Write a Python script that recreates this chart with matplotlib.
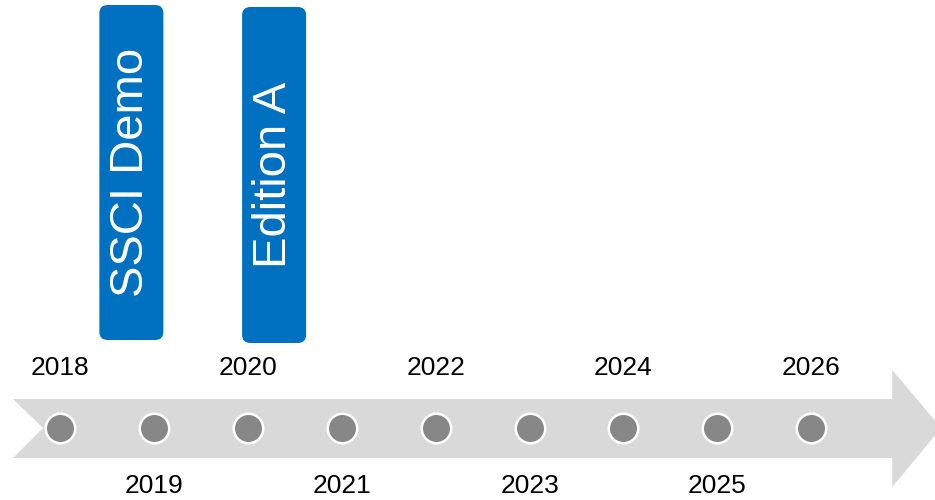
import matplotlib.pyplot as plt
from matplotlib.patches import Polygon, FancyBboxPatch

plt.rcParams['font.family'] = ['Liberation Sans', 'DejaVu Sans']

# Timeline data
years = [2018, 2019, 2020, 2021, 2022, 2023, 2024, 2025, 2026]
events = ["SSCI Demo", "Edition A"]
event_pos = [2018.76, 2020.28]

fig = plt.figure(figsize=(9.35, 5), dpi=100, facecolor="white")
ax = fig.add_axes([0, 0, 1, 1])
ax.set_xlim(2017.361, 2027.318)
ax.set_ylim(500, 0)
ax.axis("off")

# year -> pixel width scale (x axis spans 935 px)
px = (2027.318 - 2017.361) / 935.0

# Gray arrow behind the dots
x0 = years[0] - 47 * px
notch = years[0] - 17 * px
head_base = years[-1] + 81 * px
tip = years[-1] + 130 * px
arrow = Polygon([(x0, 399), (head_base, 399), (head_base, 370), (tip, 428),
                 (head_base, 487), (head_base, 458), (x0, 458), (notch, 428)],
                closed=True, facecolor="#d9d9d9", edgecolor="none", zorder=1)
ax.add_patch(arrow)

# Dots
ax.scatter(years, [427.5] * len(years), s=450, color="#878787",
           edgecolors="white", linewidths=1.8, zorder=3)

# Year labels, alternating above and below
for i, yr in enumerate(years):
    if i % 2 == 0:
        ax.text(yr, 368, str(yr), ha="center", va="center", fontsize=19, color="black")
    else:
        ax.text(yr, 486, str(yr), ha="center", va="center", fontsize=19, color="black")

# Event boxes
box_w = 64 * px
for name, pos, top, bot in zip(events, event_pos, [5, 7], [340, 343]):
    box = FancyBboxPatch((pos - box_w / 2, top), box_w, bot - top,
                         boxstyle="round,pad=0,rounding_size=0.09",
                         mutation_aspect=90, facecolor="#0070c0",
                         edgecolor="none", zorder=2)
    ax.add_patch(box)
    ax.text(pos, (top + bot) / 2, name, rotation=90, ha="center", va="center",
            fontsize=34, color="white", zorder=4)

fig.savefig("out.png", dpi=100, facecolor="white")
